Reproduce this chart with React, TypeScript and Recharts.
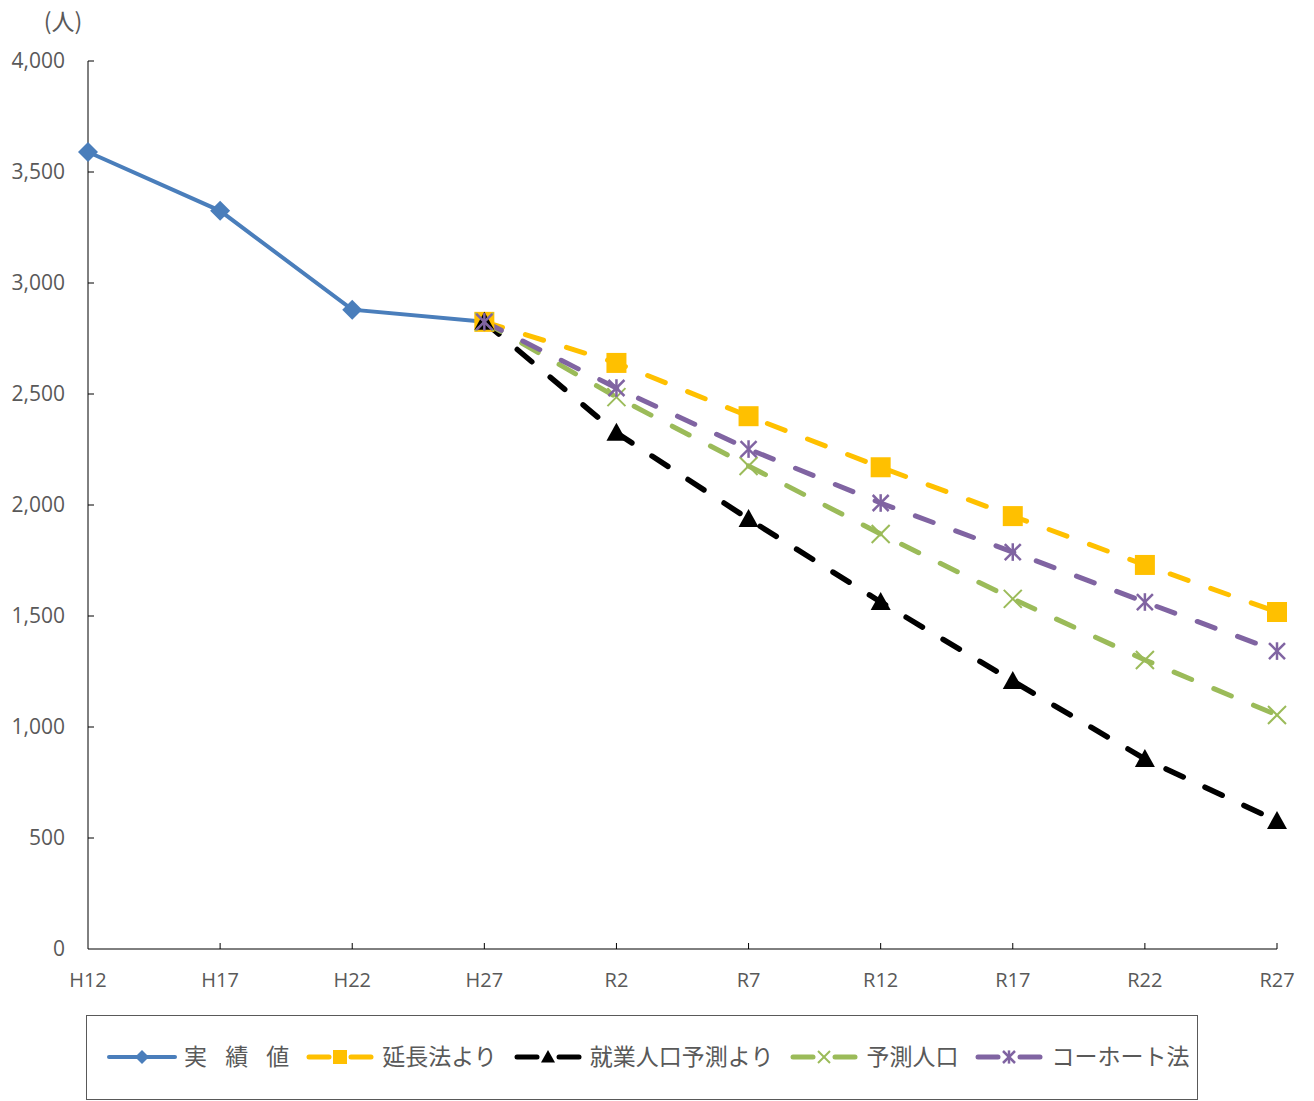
import { LineChart, Line, XAxis, YAxis, Legend } from 'recharts'

// 年次（H=平成, R=令和）
const years = ['H12', 'H17', 'H22', 'H27', 'R2', 'R7', 'R12', 'R17', 'R22', 'R27']

// 実績値と各推計（人）
const actual = [3590, 3325, 2880, 2825, null, null, null, null, null, null]
const extension = [null, null, null, 2825, 2640, 2400, 2170, 1950, 1730, 1518]
const employment = [null, null, null, 2825, 2325, 1937, 1563, 1207, 856, 577]
const projected = [null, null, null, 2825, 2486, 2176, 1869, 1577, 1302, 1054]
const cohort = [null, null, null, 2825, 2527, 2252, 2009, 1788, 1563, 1342]

const yTicks = [0, 500, 1000, 1500, 2000, 2500, 3000, 3500, 4000]

const seriesNames = ['実 績 値', '延長法より', '就業人口予測より', '予測人口', 'コーホート法']

const data = years.map((year, i) => ({
  year,
  actual: actual[i],
  extension: extension[i],
  employment: employment[i],
  projected: projected[i],
  cohort: cohort[i]
}))

const BLUE = '#4A7EBB'
const YELLOW = '#FFC000'
const BLACK = '#000000'
const GREEN = '#9BBB59'
const PURPLE = '#8064A2'
const TEXT = '#595959'
const DASH = '19 24'

type Shape = 'diamond' | 'square' | 'triangle' | 'cross' | 'star'

function Marker({ shape, cx, cy, s }: { shape: Shape; cx: number; cy: number; s: number }) {
  switch (shape) {
    case 'diamond':
      return <polygon points={`${cx},${cy - s} ${cx + s},${cy} ${cx},${cy + s} ${cx - s},${cy}`} fill={BLUE} />
    case 'square':
      return <rect x={cx - s} y={cy - s} width={s * 2} height={s * 2} fill={YELLOW} />
    case 'triangle':
      return <polygon points={`${cx},${cy - s} ${cx + s},${cy + s * 0.8} ${cx - s},${cy + s * 0.8}`} fill={BLACK} />
    case 'cross':
      return (
        <g stroke={GREEN} strokeWidth={2}>
          <line x1={cx - s} y1={cy - s} x2={cx + s} y2={cy + s} />
          <line x1={cx - s} y1={cy + s} x2={cx + s} y2={cy - s} />
        </g>
      )
    case 'star':
      return (
        <g stroke={PURPLE} strokeWidth={2.5}>
          <line x1={cx - s} y1={cy - s} x2={cx + s} y2={cy + s} />
          <line x1={cx - s} y1={cy + s} x2={cx + s} y2={cy - s} />
          <line x1={cx} y1={cy - s * 1.1} x2={cx} y2={cy + s * 1.1} />
        </g>
      )
  }
}

const dotFor = (shape: Shape, s: number) => (props: any) => {
  const { cx, cy, value, index } = props
  if (value == null || cx == null || cy == null) return <g key={`${shape}-${index}`} />
  return (
    <g key={`${shape}-${index}`}>
      <Marker shape={shape} cx={cx} cy={cy} s={s} />
    </g>
  )
}

const YTick = (props: any) => {
  const { x, y, payload } = props
  const axisX = x + 23
  return (
    <g>
      {payload.value !== 0 && <line x1={axisX} x2={axisX + 6} y1={y} y2={y} stroke="#000" />}
      <text x={x} y={y - 1} textAnchor="end" dominantBaseline="central" fill={TEXT} fontSize={21} fontFamily="'Open Sans', sans-serif">
        {payload.value.toLocaleString('en-US')}
      </text>
    </g>
  )
}

const XTick = (props: any) => {
  const { x, y, payload, index } = props
  return (
    <g>
      {index !== 0 && <line x1={x} x2={x} y1={y - 6} y2={y} stroke="#000" />}
      <text x={x} y={y + 30} textAnchor="middle" dominantBaseline="central" fill={TEXT} fontSize={20} fontFamily="'Open Sans', sans-serif">
        {payload.value}
      </text>
    </g>
  )
}

const legendItems: { color: string; shape: Shape; s: number; dashed: boolean }[] = [
  { color: BLUE, shape: 'diamond', s: 7, dashed: false },
  { color: YELLOW, shape: 'square', s: 7, dashed: true },
  { color: BLACK, shape: 'triangle', s: 7, dashed: true },
  { color: GREEN, shape: 'cross', s: 6, dashed: true },
  { color: PURPLE, shape: 'star', s: 6, dashed: true }
]

function LegendBox() {
  return (
    <div
      style={{
        width: 1112,
        height: 85,
        boxSizing: 'border-box',
        border: '1.5px solid #595959',
        display: 'flex',
        alignItems: 'center',
        paddingLeft: 20,
        paddingBottom: 4,
        gap: 16,
        fontFamily: "'Noto Sans CJK JP', sans-serif",
        fontSize: 23,
        color: TEXT,
        background: '#fff'
      }}
    >
      {legendItems.map((item, i) => (
        <div key={i} style={{ display: 'flex', alignItems: 'center', gap: 7 }}>
          <svg width={70} height={20} style={{ marginTop: 3 }}>
            {item.dashed ? (
              <g stroke={item.color} strokeWidth={5} strokeLinecap="round">
                <line x1={4} x2={24} y1={10} y2={10} />
                <line x1={46} x2={66} y1={10} y2={10} />
              </g>
            ) : (
              <line x1={2} x2={68} y1={10} y2={10} stroke={item.color} strokeWidth={4} strokeLinecap="round" />
            )}
            <Marker shape={item.shape} cx={35} cy={10} s={item.s} />
          </svg>
          <span style={{ whiteSpace: 'pre', lineHeight: 1, wordSpacing: 13 }}>{seriesNames[i]}</span>
        </div>
      ))}
    </div>
  )
}

export default function App() {
  return (
    <div style={{ position: 'absolute', left: 0, top: 0, width: 1314, height: 1101, background: '#fff' }}>
      <LineChart width={1314} height={1101} data={data} margin={{ top: 61, right: 37, left: 8, bottom: 112 }}>
        <XAxis
          dataKey="year"
          height={40}
          stroke="#000"
          tickLine={false}
          tickSize={0}
          tickMargin={0}
          tick={<XTick />}
          interval={0}
        />
        <YAxis
          width={80}
          domain={[0, 4000]}
          ticks={yTicks}
          stroke="#000"
          tickLine={false}
          tickSize={0}
          tickMargin={23}
          tick={<YTick />}
          label={{
            content: (p: any) => (
              <text
                x={p.viewBox.x + p.viewBox.width - 25}
                y={p.viewBox.y - 41}
                textAnchor="middle"
                dominantBaseline="central"
                fill={TEXT}
                fontSize={23}
                fontFamily="'Noto Sans CJK JP', sans-serif"
              >
                (人)
              </text>
            )
          }}
        />
        <Legend
          layout="horizontal"
          verticalAlign="middle"
          align="center"
          wrapperStyle={{ left: 86, top: 1015, width: 1112, height: 85 }}
          content={() => <LegendBox />}
        />
        <Line dataKey="actual" name={seriesNames[0]} stroke={BLUE} strokeWidth={4} dot={dotFor('diamond', 10)} isAnimationActive={false} />
        <Line dataKey="extension" name={seriesNames[1]} stroke={YELLOW} strokeWidth={5} strokeDasharray={DASH} strokeLinecap="round" dot={dotFor('square', 10)} isAnimationActive={false} />
        <Line dataKey="employment" name={seriesNames[2]} stroke={BLACK} strokeWidth={5.5} strokeDasharray={DASH} strokeLinecap="round" dot={dotFor('triangle', 10)} isAnimationActive={false} />
        <Line dataKey="projected" name={seriesNames[3]} stroke={GREEN} strokeWidth={5} strokeDasharray={DASH} strokeLinecap="round" dot={dotFor('cross', 9)} isAnimationActive={false} />
        <Line dataKey="cohort" name={seriesNames[4]} stroke={PURPLE} strokeWidth={5} strokeDasharray={DASH} strokeLinecap="round" dot={dotFor('star', 8)} isAnimationActive={false} />
      </LineChart>
    </div>
  )
}
